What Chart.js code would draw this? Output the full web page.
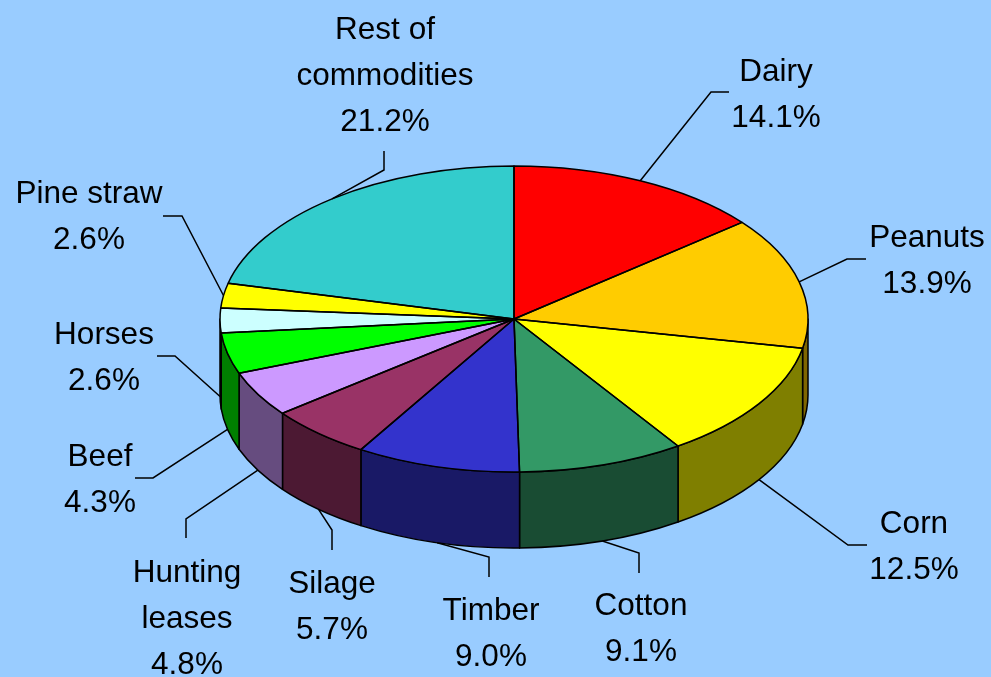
<!DOCTYPE html>
<html>
<head>
<meta charset="utf-8">
<script src="https://cdn.jsdelivr.net/npm/chart.js@4"></script>
<style>
  html, body { margin: 0; padding: 0; background: #99CCFF; }
  #wrap { width: 991px; height: 677px; position: relative; }
</style>
</head>
<body>
<div id="wrap"><canvas id="pie"></canvas></div>
<script>
const categories = ['Dairy', 'Peanuts', 'Corn', 'Cotton', 'Timber', 'Silage', 'Hunting\nleases', 'Beef', 'Horses', 'Pine straw', 'Rest of\ncommodities'];
const shares = [14.1, 13.9, 12.5, 9.1, 9.0, 5.7, 4.8, 4.3, 2.6, 2.6, 21.2];
const sliceColors = ['#FF0000', '#FFCC00', '#FFFF00', '#339966', '#3333CC', '#993366', '#CC99FF', '#00FF00', '#CCFFFF', '#FFFF00', '#33CCCC'];

// label layout: [text centre x, first baseline y, elbow start x, y, elbow end x, y]
const labelPos = [
  [776, 81, 729, 92, 711, 92],
  [927, 247, 866, 259, 847, 259],
  [914, 533, 867, 545, 848, 545],
  [641, 615, 639, 573, 639, 553],
  [491, 620, 489, 577, 489, 557],
  [332, 593, 332, 550, 332, 530],
  [187, 582, 186, 538, 186, 519],
  [100, 466, 135, 478, 153, 478],
  [104, 344, 157, 356, 175, 356],
  [89, 203, 163, 216, 182, 216],
  [385, 39, 384, 151, 384, 170]
];

const tilt = 153 / 294;   // vertical squash of the pie
const depth = 76;         // thickness of the side wall
const lineH = 46;

// side wall = half brightness of the top colour
function shade(hex) {
  const n = parseInt(hex.slice(1), 16);
  const r = (n >> 16) >> 1, g = ((n >> 8) & 255) >> 1, b = (n & 255) >> 1;
  return `rgb(${r},${g},${b})`;
}

const pie3d = {
  id: 'pie3d',
  beforeDatasetsDraw(chart) {
    const ctx = chart.ctx;
    const arcs = chart.getDatasetMeta(0).data;
    ctx.save();
    ctx.lineWidth = 1.5;
    ctx.strokeStyle = '#000';
    ctx.lineJoin = 'round';
    arcs.forEach((arc, i) => {
      const a1 = Math.max(arc.startAngle, 0);
      const a2 = Math.min(arc.endAngle, Math.PI);
      if (a2 <= a1) return;
      const rx = arc.outerRadius, ry = rx * tilt;
      ctx.beginPath();
      ctx.ellipse(arc.x, arc.y, rx, ry, 0, a1, a2);
      ctx.ellipse(arc.x, arc.y + depth, rx, ry, 0, a2, a1, true);
      ctx.closePath();
      ctx.fillStyle = shade(sliceColors[i]);
      ctx.fill();
      ctx.stroke();
    });
    ctx.restore();
    // squash the top face drawn by chart.js
    const a0 = arcs[0];
    ctx.save();
    ctx.translate(a0.x, a0.y);
    ctx.scale(1, tilt);
    ctx.translate(-a0.x, -a0.y);
  },
  afterDatasetsDraw(chart) {
    const ctx = chart.ctx;
    ctx.restore();
    const arcs = chart.getDatasetMeta(0).data;
    ctx.save();
    ctx.lineWidth = 1.5;
    ctx.strokeStyle = '#000';
    ctx.lineJoin = 'round';
    arcs.forEach(arc => {
      const rx = arc.outerRadius, ry = rx * tilt;
      ctx.beginPath();
      ctx.moveTo(arc.x, arc.y);
      ctx.ellipse(arc.x, arc.y, rx, ry, 0, arc.startAngle, arc.endAngle);
      ctx.closePath();
      ctx.stroke();
    });
    ctx.restore();
  },
  afterDraw(chart) {
    const ctx = chart.ctx;
    const arcs = chart.getDatasetMeta(0).data;
    ctx.save();
    ctx.font = '31.5px "Liberation Sans", Arial, sans-serif';
    ctx.fillStyle = '#000';
    ctx.strokeStyle = '#000';
    ctx.lineWidth = 1.5;
    ctx.textAlign = 'center';
    ctx.textBaseline = 'alphabetic';
    arcs.forEach((arc, i) => {
      const [tx, ty, e1x, e1y, e2x, e2y] = labelPos[i];
      const lines = categories[i].split('\n').concat(shares[i].toFixed(1) + '%');
      lines.forEach((t, j) => ctx.fillText(t, tx, ty + j * lineH));
      const m = (arc.startAngle + arc.endAngle) / 2;
      const rx = arc.outerRadius, ry = rx * tilt;
      const px = arc.x + rx * Math.cos(m);
      const py = arc.y + ry * Math.sin(m) + (Math.sin(m) > 0 ? depth : 0);
      ctx.beginPath();
      ctx.moveTo(e1x, e1y);
      ctx.lineTo(e2x, e2y);
      ctx.lineTo(px, py);
      ctx.stroke();
    });
    ctx.restore();
  }
};

new Chart(document.getElementById('pie'), {
  type: 'pie',
  data: {
    labels: categories,
    datasets: [{
      data: shares,
      backgroundColor: sliceColors,
      borderWidth: 0,
      radius: 294
    }]
  },
  options: {
    responsive: true,
    maintainAspectRatio: false,
    animation: false,
    events: [],
    layout: { padding: { left: 220, right: 183, top: 25, bottom: 64 } },
    plugins: {
      legend: { display: false },
      tooltip: { enabled: false }
    }
  },
  plugins: [pie3d]
});
</script>
</body>
</html>
